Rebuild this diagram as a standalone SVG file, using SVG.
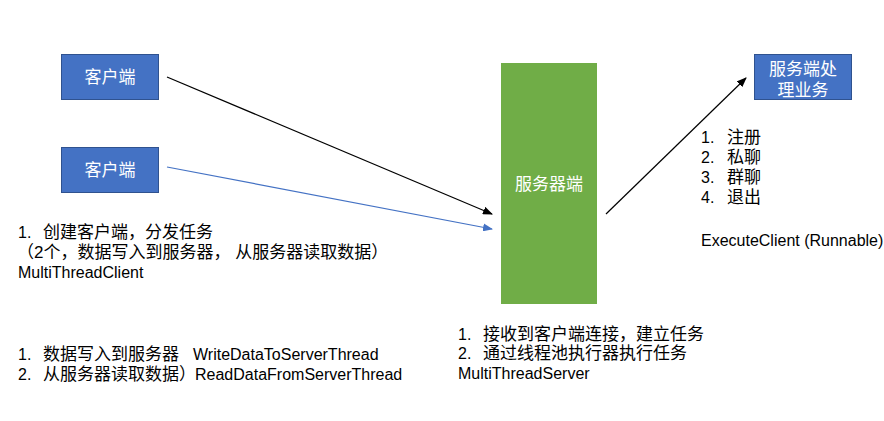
<svg xmlns="http://www.w3.org/2000/svg" width="884" height="421" viewBox="0 0 884 421">
<style>
text{font-family:"Liberation Sans","Noto Sans CJK SC",sans-serif;font-size:16px;fill:#000}
.c{font-size:17px}
.bx{fill:#4472C4;stroke:#2F528F;stroke-width:1}
.lbl{fill:#fff;font-size:17px;text-anchor:middle}
.ln{fill:none;stroke-width:1.2}
</style>
<defs>
<marker id="ab" markerWidth="10" markerHeight="8" refX="9" refY="4" orient="auto" markerUnits="userSpaceOnUse"><path d="M0,0 L10,4 L0,8 z" fill="#000"/></marker>
<marker id="au" markerWidth="10" markerHeight="8" refX="9" refY="4" orient="auto" markerUnits="userSpaceOnUse"><path d="M0,0 L10,4 L0,8 z" fill="#4472C4"/></marker>
</defs>
<rect width="884" height="421" fill="#fff"/>
<g id="connectors">
<line class="ln" x1="167" y1="77" x2="492" y2="214" stroke="#000" marker-end="url(#ab)"/>
<line class="ln" x1="167" y1="167" x2="492" y2="229" stroke="#4472C4" marker-end="url(#au)"/>
<line class="ln" x1="606" y1="214" x2="746" y2="78" stroke="#000" marker-end="url(#ab)"/>
</g>
<g id="client1"><rect class="bx" x="61.5" y="54.5" width="97" height="45"/><text class="lbl" x="110" y="83">客户端</text></g>
<g id="client2"><rect class="bx" x="61.5" y="147.5" width="97" height="45"/><text class="lbl" x="110" y="176">客户端</text></g>
<g id="server"><rect x="501" y="63" width="96" height="241" fill="#70AD47"/><text class="lbl" x="549" y="190">服务器端</text></g>
<g id="handler"><rect class="bx" x="754.5" y="54.5" width="97" height="45"/><text class="lbl" x="803" y="75">服务端处</text><text class="lbl" x="803" y="96">理业务</text></g>
<g id="client-notes">
<text x="18" y="238">1.</text><text class="c" x="43" y="238">创建客户端，分发任务</text>
<text class="c" x="17" y="258">（2个，数据写入到服务器， 从服务器读取数据）</text>
<text x="18" y="278">MultiThreadClient</text>
<text x="18" y="360">1.</text><text class="c" x="43" y="360">数据写入到服务器</text><text x="193" y="360">WriteDataToServerThread</text>
<text x="18" y="380">2.</text><text class="c" x="43" y="380">从服务器读取数据）</text><text x="195" y="380">ReadDataFromServerThread</text>
</g>
<g id="server-notes">
<text x="458" y="340">1.</text><text class="c" x="483" y="340">接收到客户端连接，建立任务</text>
<text x="458" y="359">2.</text><text class="c" x="483" y="359">通过线程池执行器执行任务</text>
<text x="458" y="379">MultiThreadServer</text>
</g>
<g id="handler-notes">
<text x="701" y="143">1.</text><text class="c" x="727" y="143">注册</text>
<text x="701" y="163">2.</text><text class="c" x="727" y="163">私聊</text>
<text x="701" y="183">3.</text><text class="c" x="727" y="183">群聊</text>
<text x="701" y="203">4.</text><text class="c" x="727" y="203">退出</text>
<text x="701" y="246">ExecuteClient (Runnable)</text>
</g>
</svg>
